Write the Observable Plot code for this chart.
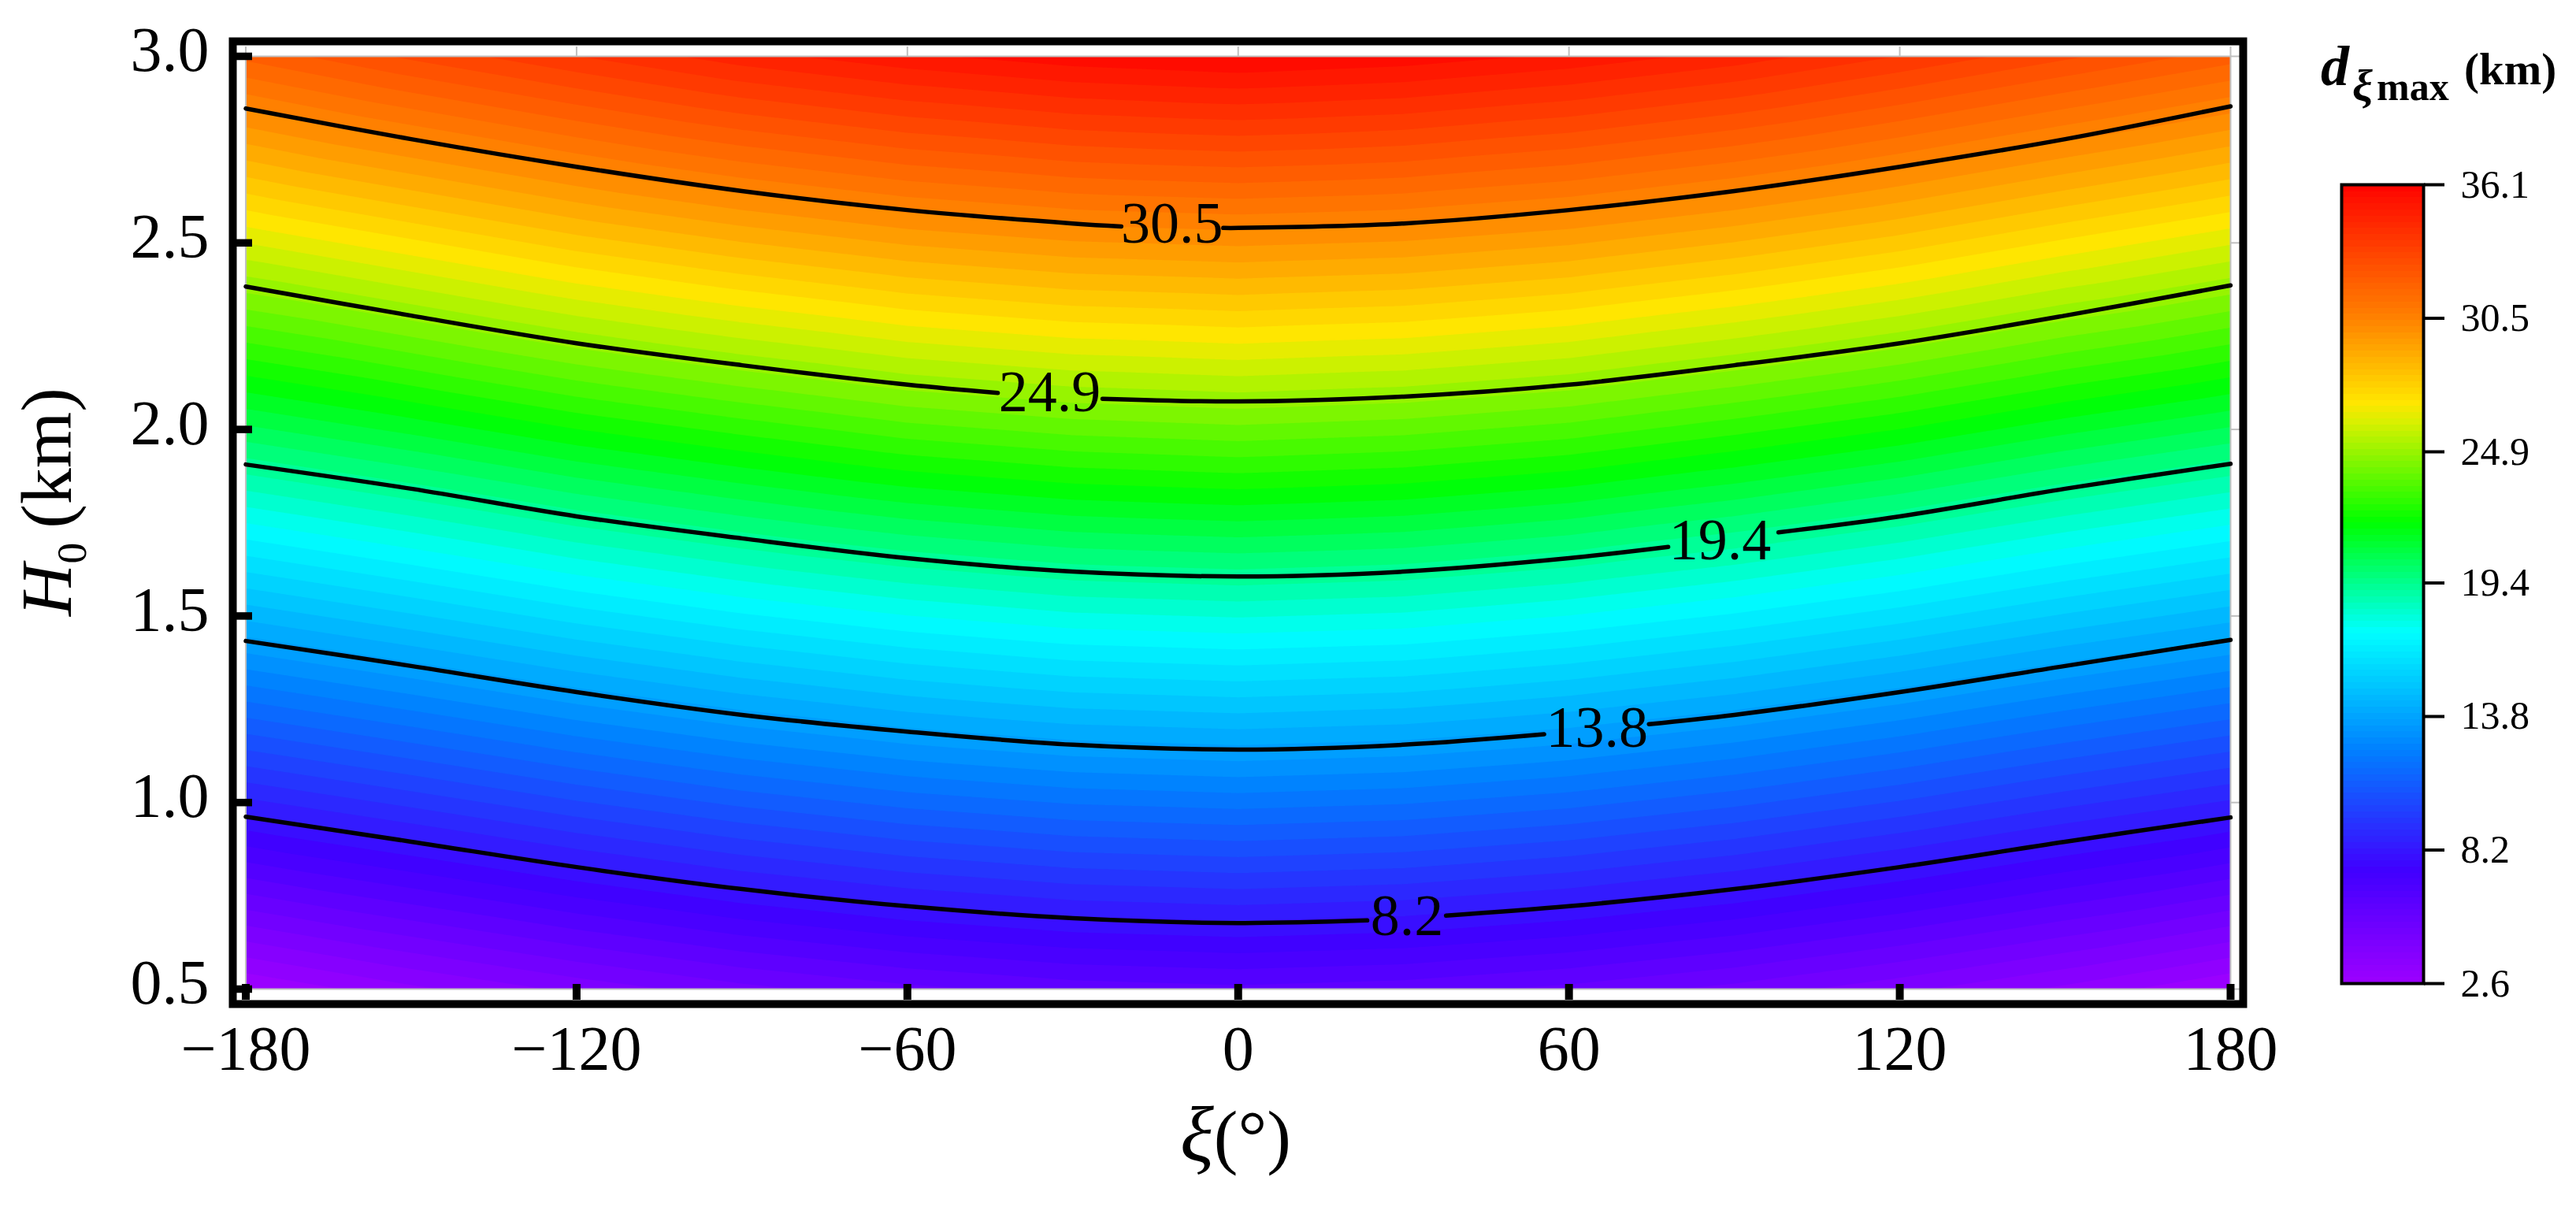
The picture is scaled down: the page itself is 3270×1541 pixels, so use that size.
<!DOCTYPE html>
<html>
<head>
<meta charset="utf-8">
<script src="https://cdn.jsdelivr.net/npm/d3@7"></script>
<script src="https://cdn.jsdelivr.net/npm/@observablehq/plot@0.6"></script>
<style>
  html, body { margin: 0; padding: 0; background: #fff; }
  #page { position: relative; width: 3270px; height: 1541px; overflow: hidden; font-family: "Liberation Serif", serif; color: #000; }
  #main, #bar { position: absolute; top: 0; }
  #main { left: 0; }
  #bar { left: 2900px; }
  .t { position: absolute; line-height: 1; white-space: nowrap; }
  .i { font-style: italic; }
  .b { font-weight: bold; }
  sub { font-size: 58%; line-height: 0; }
</style>
</head>
<body>
<div id="page">
  <div id="main"></div>
  <div id="bar"></div>
  <div class="t" id="xlabel" style="left:1498px; top:1390px; font-size:92px;"><span class="i" style="font-size:100px;">ξ</span>(°)</div>
  <div class="t" id="ylabel" style="left:13px; top:782px; font-size:92px; transform-origin:0 0; transform:rotate(-90deg);"><span class="i">H</span><sub>0</sub><span style="margin-left:18px;">(km)</span></div>
  <div class="t i b" style="left:2946px; top:48px; font-size:72px;">d</div>
  <div class="t i b" style="left:2986px; top:80px; font-size:58px;">ξ</div>
  <div class="t b" style="left:3017px; top:85px; font-size:50px;">max</div>
  <div class="t b" style="left:3128px; top:59px; font-size:57px;">(km)</div>
</div>
<script>
// axes
const xiTicks = [-180, -120, -60, 0, 60, 120, 180];
const hTicks = [0.5, 1.0, 1.5, 2.0, 2.5, 3.0];
const barTicks = [2.6, 8.2, 13.8, 19.4, 24.9, 30.5, 36.1];

// surface d(xi, H0), one row per H0 column per xi
const xiGrid = [-180, -150, -120, -90, -60, -30, 0, 30, 60, 90, 120, 150, 180];
const hGrid = [0.5, 1.0, 1.5, 2.0, 2.5, 3.0];
const dAt05 = [2.6, 3.5, 4.3, 5.0, 5.54, 5.92, 6.08, 5.92, 5.54, 5.0, 4.3, 3.5, 2.6];
const dAt10 = [8.65, 9.45, 10.27, 10.98, 11.54, 11.92, 12.08, 11.92, 11.54, 10.98, 10.27, 9.45, 8.7];
const dAt15 = [14.6, 15.4, 16.23, 16.94, 17.52, 17.94, 18.1, 17.94, 17.52, 16.94, 16.23, 15.4, 14.65];
const dAt20 = [20.5, 21.3, 22.16, 22.86, 23.5, 23.9, 24.09, 23.9, 23.5, 22.86, 22.16, 21.3, 20.55];
const dAt25 = [26.3, 27.2, 28.1, 28.84, 29.45, 29.84, 30.0, 29.84, 29.45, 28.84, 28.1, 27.2, 26.35];
const dAt30 = [32.1, 33.1, 34.0, 34.83, 35.44, 35.88, 36.1, 35.88, 35.44, 34.83, 34.0, 33.1, 32.2];
const dRows = [dAt05, dAt10, dAt15, dAt20, dAt25, dAt30];

// colour stops of the bar
const colorValues = [2.6, 7.2, 12.25, 17.2, 21.8, 26.0, 26.8, 30.4, 36.1];
const colorStops = ["#9a00ff", "#4000ff", "#0080ff", "#00ffff", "#00ff00", "#d8f000", "#ffe600", "#ff8000", "#ff0000"];
const bandWidth = 0.515; // one filled level of the contour plot
const barStep = 0.2575; // one slice of the colour bar

// labelled contour lines: H0 at each xi of xiGrid
const h82 = [0.962, 0.895, 0.827, 0.768, 0.722, 0.690, 0.677, 0.690, 0.722, 0.768, 0.827, 0.895, 0.960];
const h138 = [1.433, 1.366, 1.296, 1.235, 1.190, 1.155, 1.142, 1.155, 1.190, 1.235, 1.296, 1.366, 1.436];
const h194 = [1.906, 1.841, 1.767, 1.708, 1.655, 1.619, 1.606, 1.619, 1.655, 1.708, 1.767, 1.841, 1.908];
const h249 = [2.383, 2.305, 2.231, 2.172, 2.120, 2.088, 2.075, 2.088, 2.120, 2.172, 2.231, 2.305, 2.386];
const h305 = [2.860, 2.778, 2.704, 2.639, 2.588, 2.552, 2.540, 2.552, 2.588, 2.639, 2.704, 2.778, 2.866];
// where each line is interrupted by its label: [xi, H0] at both ends
const gap82 = [[23.4, 0.684], [37.7, 0.697]];
const gap138 = [[55.5, 1.183], [74.5, 1.210]];
const gap194 = [[78, 1.685], [98, 1.724]];
const gap249 = [[-43.6, 2.098], [-24.6, 2.082]];
const gap305 = [[-21.2, 2.544], [-2.7, 2.540]];
// labels
const labelText = ["8.2", "13.8", "19.4", "24.9", "30.5"];
const labelXi = [30.6, 65.1, 87.4, -34.2, -12];
const labelH = [0.694, 1.199, 1.701, 2.098, 2.551];

const lineHs = [h82, h138, h194, h249, h305];
const lineGaps = [gap82, gap138, gap194, gap249, gap305];

// tables for the library
const grid = dRows.flatMap((row, r) => row.map((d, c) => ({xi: xiGrid[c], h: hGrid[r], d})));
const linePoints = lineHs.flatMap((hs, l) => {
  const [a, b] = lineGaps[l];
  const rows = [];
  xiGrid.forEach((xi, c) => {
    if (xi <= a[0]) rows.push({l, xi, h: hs[c]});
  });
  rows.push({l, xi: a[0], h: a[1]});
  rows.push({l, xi: (a[0] + b[0]) / 2, h: NaN});
  rows.push({l, xi: b[0], h: b[1]});
  xiGrid.forEach((xi, c) => {
    if (xi >= b[0]) rows.push({l, xi, h: hs[c]});
  });
  return rows;
});
const labels = labelText.map((text, i) => ({text, xi: labelXi[i], h: labelH[i]}));
const thresholds = d3.range(2.6, 36.1, bandWidth);
const bands = d3.range(2.6, 36.1, barStep).map(lo => ({lo, hi: Math.min(lo + barStep, 36.1)}));

const color = {type: "linear", domain: colorValues, range: colorStops};
const font = "Liberation Serif";
const grey = "#c0c0c0";
const xiFormat = d => d < 0 ? "\u2212" + (-d) : String(d);

const main = Plot.plot({
  width: 3270, height: 1541,
  marginLeft: 311.5, marginRight: 439, marginTop: 71, marginBottom: 286,
  style: {fontFamily: font, background: "#fff", color: "#000"},
  x: {domain: [-180, 180], label: null},
  y: {domain: [0.5, 3], label: null},
  color,
  marks: [
    Plot.contour(grid, {x: "xi", y: "h", fill: "d", interpolate: "barycentric", thresholds, pixelSize: 2, blur: 0}),
    Plot.frame({stroke: grey, strokeWidth: 2}),
    Plot.axisX({anchor: "top", ticks: xiTicks, tickSize: 13, stroke: grey, strokeWidth: 2, fill: "none", label: null}),
    Plot.axisY({anchor: "right", ticks: hTicks, tickSize: 11, stroke: grey, strokeWidth: 2, fill: "none", label: null}),
    Plot.line(linePoints, {x: "xi", y: "h", z: "l", stroke: "#000", strokeWidth: 5.5, curve: "catmull-rom"}),
    Plot.text(labels, {x: "xi", y: "h", text: "text", fontSize: 74, fill: "#000"}),
    Plot.axisX({ticks: xiTicks, tickSize: 20, dy: -6, strokeWidth: 10, fill: "none", label: null}),
    Plot.axisY({ticks: hTicks, tickSize: 20, dx: 8.5, strokeWidth: 9.5, fill: "none", label: null}),
    Plot.axisX({ticks: xiTicks, tickSize: 0, tickPadding: 46, fontSize: 80, tickFormat: xiFormat, label: null}),
    Plot.axisY({ticks: hTicks, tickSize: 0, tickPadding: 46.5, dy: -7, fontSize: 80, tickFormat: ".1f", label: null}),
    Plot.frame({stroke: "#000", strokeWidth: 10, insetLeft: -16.5, insetRight: -16, insetTop: -19, insetBottom: -19})
  ]
});
document.getElementById("main").append(main);

const bar = Plot.plot({
  width: 370, height: 1541,
  marginLeft: 72, marginRight: 194, marginTop: 234, marginBottom: 293,
  style: {fontFamily: font, background: "transparent", color: "#000"},
  y: {domain: [2.6, 36.1], label: null},
  color,
  marks: [
    Plot.rect(bands, {y1: "lo", y2: "hi", fill: "lo", shapeRendering: "crispEdges"}),
    Plot.frame({stroke: "#000", strokeWidth: 4}),
    Plot.axisY({anchor: "right", ticks: barTicks, tickSize: 26, tickPadding: 21, strokeWidth: 4, fontSize: 50, tickFormat: ".1f", label: null})
  ]
});
document.getElementById("bar").append(bar);
</script>
</body>
</html>
